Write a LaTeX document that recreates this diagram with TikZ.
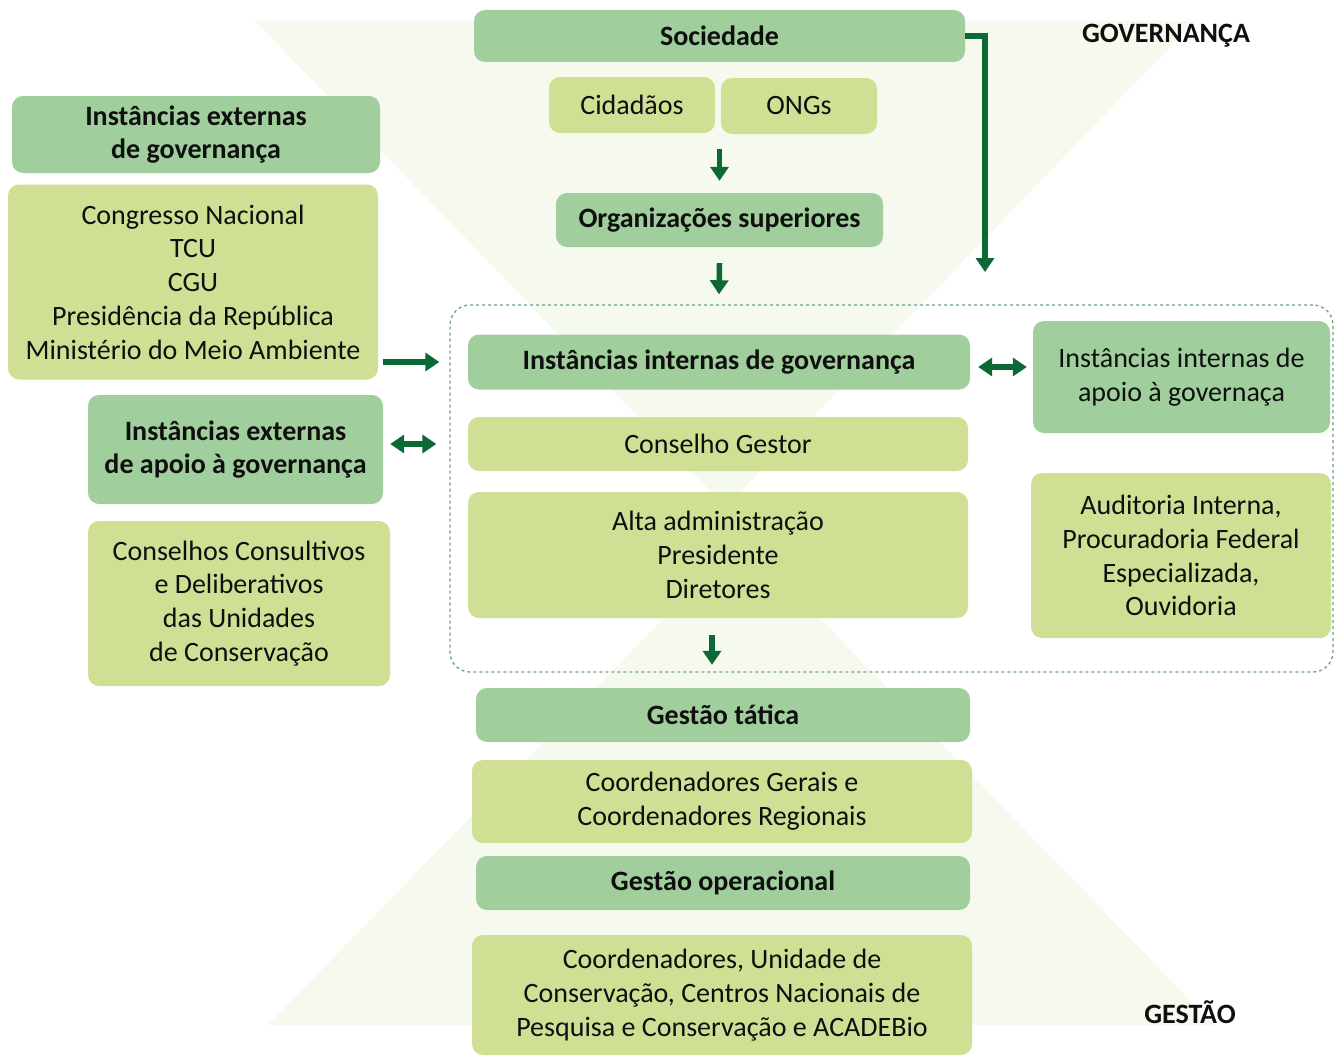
\documentclass[tikz,border=0pt]{standalone}
\usepackage{fontspec}
\setmainfont{Carlito}
\usetikzlibrary{arrows.meta,calc}
\definecolor{hdr}{RGB}{160,206,156}
\definecolor{lite}{RGB}{207,224,148}
\definecolor{arrg}{RGB}{12,104,52}
\definecolor{bgl}{RGB}{246,249,237}
\definecolor{frm}{RGB}{110,160,140}
\definecolor{txt}{RGB}{15,15,15}
\begin{document}
\begin{tikzpicture}[x=1pt,y=-1pt,
  base/.style={rounded corners=11pt, inner sep=0pt, align=center, text=txt,
    font=\fontsize{28}{33.8}\selectfont},
  hbox/.style={base, fill=hdr},
  lbox/.style={base, fill=lite},
  bf/.style={font=\fontsize{28}{33.8}\selectfont\bfseries},
  arr/.style={draw=arrg, line width=5.5pt, -{Triangle[width=18pt,length=14pt]}},
  darr/.style={draw=arrg, line width=5.5pt, {Triangle[width=18pt,length=14pt]}-{Triangle[width=18pt,length=14pt]}},
  frame/.style={draw=frm, line width=1.3pt, dash pattern=on 3pt off 3pt, rounded corners=20pt}
]
\path[fill=white] (0,0) rectangle (1335,1057);
\useasboundingbox (0,0) rectangle (1335,1057);
% background hourglass
\fill[bgl] (255,21) -- (1195,21) -- (726,507) -- cycle;
\fill[bgl] (742,538) -- (1214,1025) -- (268,1025) -- cycle;

% dotted frame
\node[frame, minimum width=883pt, minimum height=367pt] (frm) at (891.5,488.5) {};

% top column
\node[hbox, bf, minimum width=491pt, minimum height=52pt] (soc) at (719.5,36) {Sociedade};
\node[lbox, minimum width=166pt, minimum height=56pt] (cid) at (632,105) {Cidadãos};
\node[lbox, minimum width=156pt, minimum height=56pt] (ong) at (799,106) {ONGs};
\node[hbox, bf, minimum width=327pt, minimum height=54pt] (org) at (719.5,220) {Organizações superiores};

\node[font=\fontsize{28}{32}\selectfont\bfseries, text=txt] (gov) at (1166,36) {GOVERNANÇA};
\node[font=\fontsize{28}{32}\selectfont\bfseries, text=txt] (ges) at (1190,1012) {GESTÃO};

% internal governance
\node[hbox, bf, minimum width=502pt, minimum height=55pt] (iig) at (719,362) {Instâncias internas de governança};
\node[lbox, minimum width=500pt, minimum height=54pt] (cg) at (718,444) {Conselho Gestor};
\node[lbox, minimum width=500pt, minimum height=126pt] (alta) at (718,555) {Alta administração\\Presidente\\Diretores};
\node[hbox, minimum width=297pt, minimum height=112pt] (apint) at (1181.5,377) {Instâncias internas de\\apoio à governaça};
\node[lbox, minimum width=300pt, minimum height=165pt] (aud) at (1181,555.5) {Auditoria Interna,\\Procuradoria Federal\\Especializada,\\Ouvidoria};

% external
\node[hbox, bf, minimum width=368pt, minimum height=77pt] (ext) at (196,134.5) {Instâncias externas\\de governança};
\node[lbox, minimum width=370pt, minimum height=195pt] (cong) at (193,282) {Congresso Nacional\\TCU\\CGU\\Presidência da República\\Ministério do Meio Ambiente};
\node[hbox, bf, minimum width=295pt, minimum height=109pt] (extap) at (235.5,449.5) {Instâncias externas\\de apoio à governança};
\node[lbox, minimum width=302pt, minimum height=165pt] (ccons) at (239,603.5) {Conselhos Consultivos\\e Deliberativos\\das Unidades\\de Conservação};

% management
\node[hbox, bf, minimum width=494pt, minimum height=54pt] (gt) at (723,715) {Gestão tática};
\node[lbox, minimum width=500pt, minimum height=83pt] (cgr) at (722,801.5) {Coordenadores Gerais e\\Coordenadores Regionais};
\node[hbox, bf, minimum width=494pt, minimum height=54pt] (go) at (723,883) {Gestão operacional};
\node[lbox, minimum width=500pt, minimum height=120pt] (cun) at (722,995) {Coordenadores, Unidade de\\Conservação, Centros Nacionais de\\Pesquisa e Conservação e ACADEBio};

% arrows
\coordinate (socend) at (985,272);
\draw[arr] (soc.east) -- (socend |- soc.east) -- (socend);
\draw[arr] ($(org.north |- cid.south)+(0,16)$) -- ($(org.north)+(0,-12)$);
\draw[arr] ($(org.south)+(0,16)$) -- ($(iig.north)+(0,-40)$);
\draw[arr] ($(alta.south)+(-6,17)$) -- ($(gt.north)+(-11,-23)$);
\draw[arr] ($(cong.east |- iig.west)+(5,0)$) -- ($(frm.west |- iig.west)+(-10,0)$);
\draw[darr] ($(extap.east |- cg.west)+(7,0)$) -- ($(frm.west |- cg.west)+(-13,0)$);
\draw[darr] ($(iig.east)+(8,5)$) -- ($(apint.west |- iig.east)+(-6,5)$);
\end{tikzpicture}
\end{document}
